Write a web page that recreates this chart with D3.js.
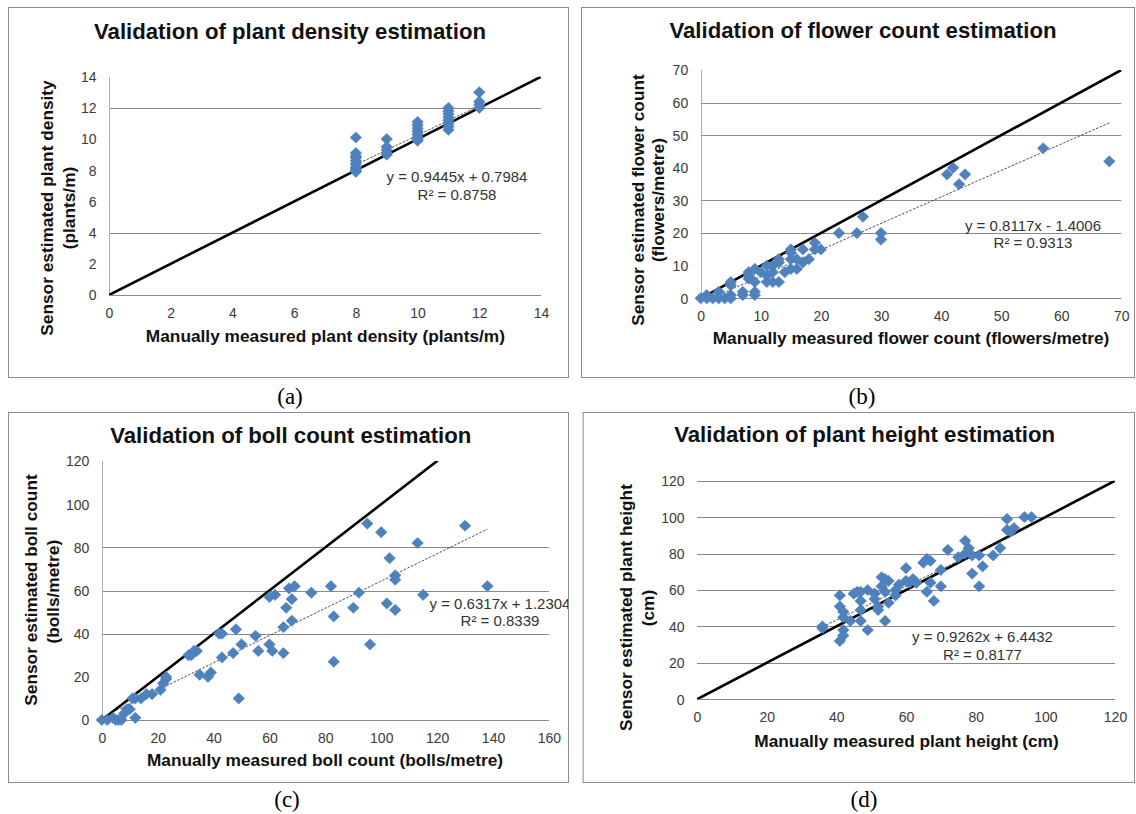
<!DOCTYPE html>
<html><head><meta charset="utf-8">
<script src="https://cdn.jsdelivr.net/npm/d3@7"></script>
<style>body{margin:0;background:#fff}svg{display:block}</style>
</head><body>
<svg id="c" width="1136" height="814"></svg>
<script>
// ---------- data ----------
const densityManual = [8,8,8,8,8,8,8,8,8,8, 9,9,9,9,9, 10,10,10,10,10,10,10,10, 11,11,11,11,11,11,11,11, 12,12,12,12];
const densitySensor = [10.1,9.1,8.9,8.8,8.6,8.4,8.2,8.1,8.0,7.9, 10.0,9.5,9.3,9.1,9.0, 11.1,10.9,10.7,10.5,10.3,10.1,10.0,9.9, 12.0,11.8,11.6,11.4,11.2,11.0,10.8,10.6, 13.0,12.4,12.2,12.0];

const flowerManual = [0,1,1,2,3,3,4,5,5,5,5,7,7,8,8,8,9,9,9,9,10,11,11,11,12,12,12,13,13,13,14,15,15,15,15,16,16,17,17,18,19,19,20,23,26,27,30,30,41,42,43,44,57,68];
const flowerSensor = [0,0,1,0,0,2,0,0,1,4,5,1,2,6,7,8,1,2,5,9,8,5,7,10,5,8,10,5,11,12,8,9,12,14,15,9,12,11,15,12,15,17,15,20,20,25,18,20,38,40,35,38,46,42];

const bollManual = [0,2,4,5,6,7,8,9,10,12,11,12,14,16,18,21,22,23,23,31,32,33,34,35,38,39,42,43,43,47,48,49,50,55,56,60,60,61,62,65,65,66,67,68,68,69,75,82,83,83,90,92,95,96,100,102,103,105,105,105,113,115,130,138];
const bollSensor = [0,0,1,0,0,0,3,5,5,1,10,10,10,12,12,14,17,19,20,30,30,32,32,21,20,22,40,40,29,31,42,10,35,39,32,57,35,32,58,31,43,52,61,56,46,62,59,62,48,27,52,59,91,35,87,54,75,67,65,51,82,58,90,62];

const heightManual = [36,36,41,41,42,42,42,42,41,44,45,46,47,47,47,47,49,49,51,51,52,52,53,53,54,54,55,54,55,57,57,58,60,60,61,62,63,65,66,67,66,67,68,70,70,72,75,77,77,78,79,79,81,82,81,85,87,89,89,90,91,94,96];
const heightSensor = [40,39,57,51,48,45,38,35,32,43,58,59,59,54,49,43,60,38,58,55,51,49,62,67,66,59,65,43,53,60,57,63,65,72,64,66,64,75,77,76,59,64,54,71,62,82,78,87,80,83,79,69,79,73,62,79,83,99,93,92,94,100,100];

const fitSlope = [0.9445, 0.8117, 0.6317, 0.9262];
const fitIntercept = [0.7984, -1.4006, 1.2304, 6.4432];
const fitR2 = ["0.8758", "0.9313", "0.8339", "0.8177"];

const densityTicks = [0,2,4,6,8,10,12,14];
const flowerTicks = [0,10,20,30,40,50,60,70];
const bollXTicks = [0,20,40,60,80,100,120,140,160];
const bollYTicks = [0,20,40,60,80,100,120];
const heightTicks = [0,20,40,60,80,100,120];

const chartTitles = ["Validation of plant density estimation","Validation of flower count estimation","Validation of boll count estimation","Validation of plant height estimation"];
const xTitles = ["Manually measured plant density (plants/m)","Manually measured flower count (flowers/metre)","Manually measured boll count (bolls/metre)","Manually measured plant height (cm)"];
const yTitles1 = ["Sensor estimated plant density","Sensor estimated flower count","Sensor estimated boll count","Sensor estimated plant height"];
const yTitles2 = ["(plants/m)","(flowers/metre)","(bolls/metre)","(cm)"];
const panelLabels = ["(a)","(b)","(c)","(d)"];
const gridValues = [[12,4],[60,50,30,20],[80,60,40],[120,100,80,60,40,20]];

// ---------- layout ----------
const FONT = '"Liberation Sans", Arial, Helvetica, sans-serif';
const panels = [
  {xs:densityManual, ys:densitySensor, xd:[0,14], yd:[0,14], xt:densityTicks, yt:densityTicks,
   box:[8,7,568,377], xr:[109,541], yr:[295,76.7], title:[290,31], xT:[325.4,336], yT1:[47.3,208], yT2:[69,208], eq:[457,176.7,194.3], lab:[290,396], yAxis:true},
  {xs:flowerManual, ys:flowerSensor, xd:[0,70], yd:[0,70], xt:flowerTicks, yt:flowerTicks,
   box:[581,7,1134,377], xr:[700.7,1121.3], yr:[298.3,70], title:[863,30], xT:[911,338.3], yT1:[638,200], yT2:[658,200], eq:[1033,225,242], lab:[862,396], yAxis:true},
  {xs:bollManual, ys:bollSensor, xd:[0,160], yd:[0,120], xt:bollXTicks, yt:bollYTicks,
   box:[8,412,568,782], xr:[101.8,548.9], yr:[720,461], title:[290.8,435], xT:[325,760], yT1:[31,590], yT2:[52.7,591.7], eq:[500,603.3,620], lab:[287,799], yAxis:true},
  {xs:heightManual, ys:heightSensor, xd:[0,120], yd:[0,120], xt:heightTicks, yt:heightTicks,
   box:[582.6,412,1134,782], xr:[697,1115], yr:[699.3,480.7], title:[864.6,434], xT:[906.5,740.7], yT1:[626,607.5], yT2:[647.6,608], eq:[982.5,636.7,654], lab:[864,799], yAxis:false}
];

const svg = d3.select('#c');
const defs = svg.append('defs');
const diamond = 'M0,-5.6L5.8,0L0,5.6L-5.8,0Z';

panels.forEach((p,i)=>{
  const g = svg.append('g');
  const [bx0,by0,bx1,by1] = p.box;
  const cid = 'clipP'+i, pid = 'clipA'+i;
  defs.append('clipPath').attr('id',cid).append('rect').attr('x',bx0).attr('y',by0).attr('width',bx1-bx0).attr('height',by1-by0);
  const x = d3.scaleLinear().domain(p.xd).range(p.xr);
  const y = d3.scaleLinear().domain(p.yd).range(p.yr);
  defs.append('clipPath').attr('id',pid).append('rect').attr('x',p.xr[0]).attr('y',p.yr[1]).attr('width',p.xr[1]-p.xr[0]).attr('height',p.yr[0]-p.yr[1]);

  g.append('rect').attr('x',bx0+0.5).attr('y',by0+0.5).attr('width',bx1-bx0).attr('height',by1-by0)
    .attr('fill','#fff').attr('stroke','#8c8c8c').attr('stroke-width',1);

  const inner = g.append('g').attr('clip-path',`url(#${cid})`);

  // gridlines
  inner.selectAll('.grid').data(gridValues[i]).join('line')
    .attr('x1',p.xr[0]).attr('x2',p.xr[1]).attr('y1',d=>Math.round(y(d))+0.5).attr('y2',d=>Math.round(y(d))+0.5)
    .attr('stroke','#8a8a8a').attr('stroke-width',1);
  // x axis baseline
  inner.append('line').attr('x1',p.xr[0]).attr('x2',p.xr[1]).attr('y1',Math.round(y(0))+0.5).attr('y2',Math.round(y(0))+0.5)
    .attr('stroke','#8a8a8a').attr('stroke-width',1);
  if (p.yAxis) {
    inner.append('line').attr('x1',Math.round(p.xr[0])+0.5).attr('x2',Math.round(p.xr[0])+0.5).attr('y1',p.yr[0]).attr('y2',p.yr[1])
      .attr('stroke','#b0b0b0').attr('stroke-width',1);
  }

  // tick labels via d3 axes (no domain / tick lines)
  const xAxis = d3.axisBottom(x).tickValues(p.xt).tickSize(0).tickPadding(0);
  const xg = inner.append('g').attr('transform',`translate(0,${y(0)+23})`).call(xAxis);
  const yAxis = d3.axisLeft(y).tickValues(p.yt).tickSize(0).tickPadding(12.5);
  const yg = inner.append('g').attr('transform',`translate(${p.xr[0]},0)`).call(yAxis);
  [xg,yg].forEach(a=>{
    a.select('.domain').remove();
    a.selectAll('text').attr('font-family',FONT).attr('font-size',14).attr('fill','#3a3a3a');
  });
  xg.selectAll('text').attr('dy',0);
  yg.selectAll('text').attr('dy','0.35em');

  // 1:1 line and regression line
  const lineG = inner.append('g').attr('clip-path',`url(#${pid})`);
  const maxV = Math.min(p.xd[1], p.yd[1]);
  lineG.append('line').attr('x1',x(0)).attr('y1',y(0)).attr('x2',x(maxV)).attr('y2',y(maxV))
    .attr('stroke','#000').attr('stroke-width',2.6).attr('stroke-linecap','round');
  const ext = d3.extent(p.xs);
  const f = v => fitSlope[i]*v + fitIntercept[i];
  lineG.append('line').attr('x1',x(ext[0])).attr('y1',y(f(ext[0]))).attr('x2',x(ext[1])).attr('y2',y(f(ext[1])))
    .attr('stroke','#3c3c3c').attr('stroke-width',0.9).attr('stroke-dasharray','2.5,1.5');

  // points
  inner.selectAll('.pt').data(p.xs.map((v,k)=>[v,p.ys[k]])).join('path')
    .attr('d',diamond).attr('transform',d=>`translate(${x(d[0])},${y(d[1])})`)
    .attr('fill','#4F81BD').attr('stroke','#4F81BD').attr('stroke-width',0.6);

  // equation
  const b = fitIntercept[i];
  const eqText = `y = ${fitSlope[i]}x ${b<0?'-':'+'} ${Math.abs(b)}`;
  inner.append('text').attr('x',p.eq[0]).attr('y',p.eq[1]).attr('text-anchor','middle').attr('dominant-baseline','central')
    .attr('font-family',FONT).attr('font-size',15).attr('fill','#333').text(eqText);
  inner.append('text').attr('x',p.eq[0]).attr('y',p.eq[2]).attr('text-anchor','middle').attr('dominant-baseline','central')
    .attr('font-family',FONT).attr('font-size',15).attr('fill','#333').text(`R² = ${fitR2[i]}`);

  // titles
  inner.append('text').attr('x',p.title[0]).attr('y',p.title[1]).attr('text-anchor','middle').attr('dominant-baseline','central')
    .attr('font-family',FONT).attr('font-size',22.2).attr('font-weight','bold').attr('fill','#111').text(chartTitles[i]);
  inner.append('text').attr('x',p.xT[0]).attr('y',p.xT[1]).attr('text-anchor','middle').attr('dominant-baseline','central')
    .attr('font-family',FONT).attr('font-size',17.3).attr('font-weight','bold').attr('fill','#111').text(xTitles[i]);
  [[p.yT1,yTitles1[i]],[p.yT2,yTitles2[i]]].forEach(([pos,t])=>{
    inner.append('text').attr('transform',`translate(${pos[0]},${pos[1]}) rotate(-90)`)
      .attr('text-anchor','middle').attr('dominant-baseline','central')
      .attr('font-family',FONT).attr('font-size',17.3).attr('font-weight','bold').attr('fill','#111').text(t);
  });

  // panel label
  svg.append('text').attr('x',p.lab[0]).attr('y',p.lab[1]).attr('text-anchor','middle').attr('dominant-baseline','central')
    .attr('font-family','"Liberation Serif", "Times New Roman", serif').attr('font-size',23).attr('fill','#000').text(panelLabels[i]);
});
</script>
</body></html>
